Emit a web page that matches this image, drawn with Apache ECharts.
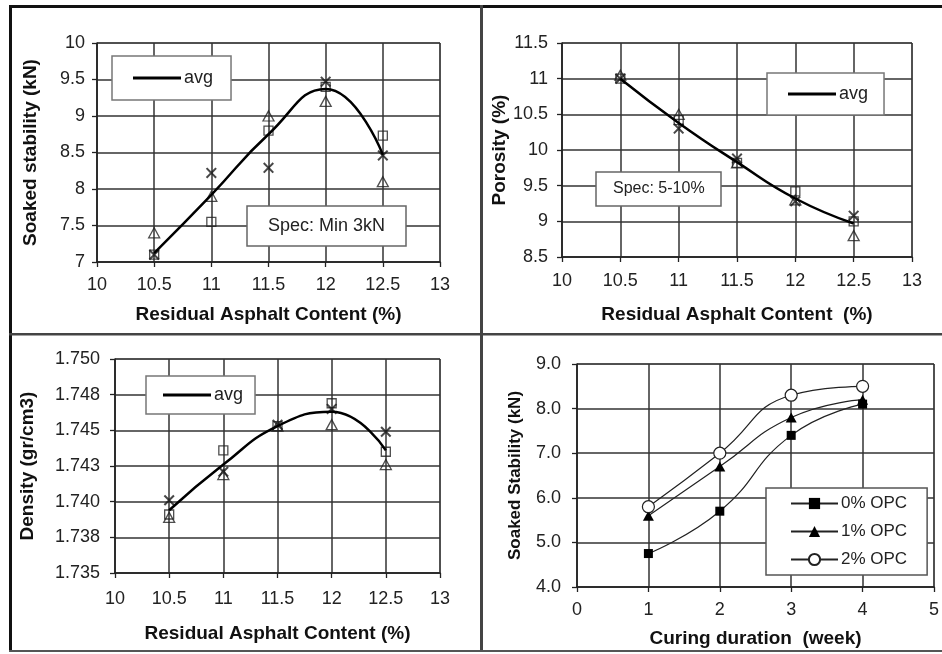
<!DOCTYPE html>
<html>
<head>
<meta charset="utf-8">
<script src="https://cdn.jsdelivr.net/npm/echarts@6/dist/echarts.min.js"></script>
<style>
html,body{margin:0;padding:0;background:#fff;}
#chart{width:942px;height:654px;}
</style>
</head>
<body>
<div id="chart"></div>
<script>
// ---------- data ----------
const asphalt = [10.5, 11, 11.5, 12, 12.5];

const stabTri = [7.4, 7.9, 9.0, 9.2, 8.1];
const stabSq  = [7.1, 7.55, 8.8, 9.4, 8.73];
const stabX   = [7.1, 8.22, 8.29, 9.47, 8.46];
const stabAvg = [7.12, 7.92, 8.75, 9.37, 8.47];

const porTri = [11.05, 10.5, 9.82, 9.3, 8.8];
const porSq  = [11.0, 10.42, 9.82, 9.42, 9.0];
const porX   = [11.0, 10.3, 9.88, 9.28, 9.08];
const porAvg = [11.0, 10.38, 9.83, 9.32, 8.97];

const denTri = [1.7389, 1.7419, 1.7453, 1.7454, 1.7426];
const denSq  = [1.7391, 1.7436, 1.7453, 1.7469, 1.7435];
const denX   = [1.7401, 1.7421, 1.7454, 1.7465, 1.7449];
const denAvg = [1.7394, 1.7426, 1.7453, 1.7463, 1.7436];
const densityTicks = ['1.735', '1.738', '1.740', '1.743', '1.745', '1.748', '1.750'];

const weeks = [1, 2, 3, 4];
const opc0 = [4.75, 5.7, 7.4, 8.1];
const opc1 = [5.6, 6.7, 7.8, 8.2];
const opc2 = [5.8, 7.0, 8.3, 8.5];

// ---------- helpers ----------
const pairs = (xs, ys) => xs.map((x, i) => [x, ys[i]]);
const FONT = 'Liberation Sans, Arial, sans-serif';
const XPATH = 'path://M0,1.3L1.3,0L5,3.7L8.7,0L10,1.3L6.3,5L10,8.7L8.7,10L5,6.3L1.3,10L0,8.7L3.7,5Z';
const TICK = 18;
const TITLE = 19;

function lbl(margin, extra) {
  return Object.assign({color: '#222', fontSize: TICK, fontFamily: FONT, margin: margin}, extra || {});
}

function axisBase(extra) {
  return Object.assign({
    type: 'value',
    axisLine: {show: true, onZero: false, lineStyle: {color: '#222', width: 1.5}},
    axisTick: {show: true, inside: false, length: 5, lineStyle: {color: '#222', width: 1.3}},
    splitLine: {show: true, lineStyle: {color: '#333', width: 1.5}},
    nameLocation: 'middle',
    nameTextStyle: {color: '#111', fontSize: TITLE, fontWeight: 'bold', fontFamily: FONT}
  }, extra);
}

function scatterSet(gi, tri, sq, xs, prefix) {
  return [
    {name: prefix + '-tri', type: 'scatter', xAxisIndex: gi, yAxisIndex: gi, data: pairs(asphalt, tri),
     symbol: 'triangle', symbolSize: [11, 10], z: 3,
     itemStyle: {color: 'rgba(255,255,255,0)', borderColor: '#222', borderWidth: 1.3}},
    {name: prefix + '-sq', type: 'scatter', xAxisIndex: gi, yAxisIndex: gi, data: pairs(asphalt, sq),
     symbol: 'rect', symbolSize: 9, z: 3,
     itemStyle: {color: 'rgba(255,255,255,0)', borderColor: '#222', borderWidth: 1.3}},
    {name: prefix + '-x', type: 'scatter', xAxisIndex: gi, yAxisIndex: gi, data: pairs(asphalt, xs),
     symbol: XPATH, symbolSize: 11, z: 3,
     itemStyle: {color: '#1a1a1a'}}
  ];
}

function avgLine(gi, ys) {
  return {name: 'avg', type: 'line', xAxisIndex: gi, yAxisIndex: gi, data: pairs(asphalt, ys),
    smooth: 0.5, showSymbol: false, symbol: 'none', z: 4,
    lineStyle: {color: '#000', width: 2.5}, itemStyle: {color: '#000'}};
}

function avgLegend(left, top, pad) {
  return {
    data: [{name: 'avg', icon: 'rect'}], left: left, top: top, orient: 'vertical',
    itemWidth: 48, itemHeight: 3, itemGap: 5, padding: pad,
    backgroundColor: '#fff', borderColor: '#777', borderWidth: 1.5, borderRadius: 0,
    selectedMode: false,
    textStyle: {fontSize: 18, color: '#222', fontFamily: FONT, padding: [0, 0, 0, -2]}
  };
}

function specBox(text, left, top, size, pad) {
  return {
    text: text, left: left, top: top, padding: pad,
    backgroundColor: '#fff', borderColor: '#666', borderWidth: 1.5,
    textStyle: {fontSize: size, fontWeight: 'normal', color: '#222', fontFamily: FONT}
  };
}

const option = {
  animation: false,
  backgroundColor: '#fff',
  grid: [
    {left: 97, top: 43, width: 343, height: 219, show: true, borderColor: '#555', borderWidth: 1},
    {left: 562, top: 43, width: 350, height: 214, show: true, borderColor: '#555', borderWidth: 1},
    {left: 115, top: 359, width: 325, height: 214, show: true, borderColor: '#555', borderWidth: 1},
    {left: 577, top: 364, width: 359, height: 223, show: true, borderColor: '#555', borderWidth: 1}
  ],
  xAxis: [
    axisBase({gridIndex: 0, min: 10, max: 13, interval: 0.5, name: 'Residual Asphalt Content (%)', nameGap: 43,
      axisLabel: lbl(14)}),
    axisBase({gridIndex: 1, min: 10, max: 13, interval: 0.5, name: 'Residual Asphalt Content  (%)', nameGap: 48,
      axisLabel: lbl(15)}),
    axisBase({gridIndex: 2, min: 10, max: 13, interval: 0.5, name: 'Residual Asphalt Content (%)', nameGap: 51,
      axisLabel: lbl(17)}),
    axisBase({gridIndex: 3, min: 0, max: 5, interval: 1, name: 'Curing duration  (week)', nameGap: 42,
      axisLabel: lbl(14)})
  ],
  yAxis: [
    axisBase({gridIndex: 0, min: 7, max: 10, interval: 0.5, name: 'Soaked stability (kN)', nameGap: 57,
      axisLabel: lbl(12)}),
    axisBase({gridIndex: 1, min: 8.5, max: 11.5, interval: 0.5, name: 'Porosity (%)', nameGap: 53,
      axisLabel: lbl(14)}),
    axisBase({gridIndex: 2, min: 1.735, max: 1.750, interval: 0.0025, name: 'Density (gr/cm3)', nameGap: 78,
      axisLabel: lbl(15, {formatter: v => densityTicks[Math.round((v - 1.735) / 0.0025)]})}),
    axisBase({gridIndex: 3, min: 4, max: 9, interval: 1, name: 'Soaked Stability (kN)', nameGap: 53,
      nameTextStyle: {color: '#111', fontSize: 17, fontWeight: 'bold', fontFamily: FONT},
      axisLabel: lbl(16, {formatter: v => v.toFixed(1)})})
  ],
  title: [
    specBox('Spec: Min 3kN', 247, 206, 18, [11, 21, 11, 21]),
    specBox('Spec: 5-10%', 596, 172, 16, [9, 17, 9, 17])
  ],
  legend: [
    avgLegend(112, 56, [13, 18, 13, 21]),
    avgLegend(767, 73, [12, 16, 12, 21]),
    avgLegend(146, 376, [10, 12, 10, 17]),
    {
      data: ['0% OPC', '1% OPC', '2% OPC'], left: 766, top: 488, orient: 'vertical',
      itemWidth: 47, itemHeight: 14, itemGap: 11, padding: [7, 20, 7, 24],
      backgroundColor: '#fff', borderColor: '#555', borderWidth: 1.5, selectedMode: false,
      textStyle: {fontSize: 17, color: '#222', fontFamily: FONT, padding: [0, 0, 0, -2]}
    }
  ],
  series: [
    ...scatterSet(0, stabTri, stabSq, stabX, 'stab'),
    avgLine(0, stabAvg),
    ...scatterSet(1, porTri, porSq, porX, 'por'),
    avgLine(1, porAvg),
    ...scatterSet(2, denTri, denSq, denX, 'den'),
    avgLine(2, denAvg),
    {name: '0% OPC', type: 'line', xAxisIndex: 3, yAxisIndex: 3, data: pairs(weeks, opc0), smooth: 0.5,
     symbol: 'rect', symbolSize: 9, lineStyle: {color: '#222', width: 1.2},
     itemStyle: {color: '#000', borderColor: '#000', borderWidth: 0}},
    {name: '1% OPC', type: 'line', xAxisIndex: 3, yAxisIndex: 3, data: pairs(weeks, opc1), smooth: 0.5,
     symbol: 'triangle', symbolSize: [11, 10], lineStyle: {color: '#222', width: 1.2},
     itemStyle: {color: '#000', borderColor: '#000', borderWidth: 0}},
    {name: '2% OPC', type: 'line', xAxisIndex: 3, yAxisIndex: 3, data: pairs(weeks, opc2), smooth: 0.5,
     symbol: 'circle', symbolSize: 12, lineStyle: {color: '#222', width: 1.2},
     itemStyle: {color: '#fff', borderColor: '#222', borderWidth: 1.2}}
  ],
  graphic: [
    {type: 'rect', shape: {x: 9, y: 5, width: 933, height: 3}, style: {fill: '#111'}, z: 100},
    {type: 'rect', shape: {x: 9, y: 5, width: 3, height: 647}, style: {fill: '#111'}, z: 100},
    {type: 'rect', shape: {x: 480, y: 5, width: 3, height: 647}, style: {fill: '#444'}, z: 100},
    {type: 'rect', shape: {x: 9, y: 333, width: 933, height: 2.5}, style: {fill: '#444'}, z: 100},
    {type: 'rect', shape: {x: 9, y: 650, width: 933, height: 2}, style: {fill: '#555'}, z: 100}
  ]
};

const chart = echarts.init(document.getElementById('chart'), null, {renderer: 'canvas'});
chart.setOption(option);
</script>
</body>
</html>
